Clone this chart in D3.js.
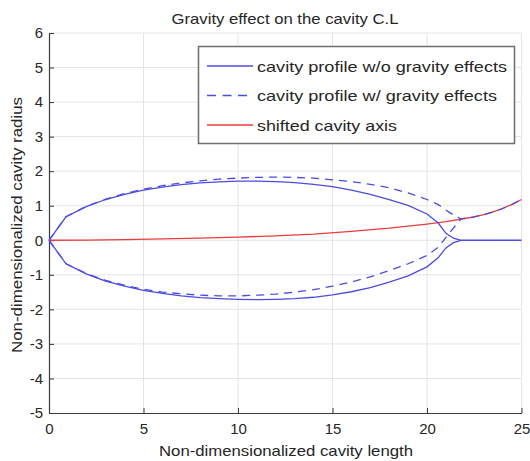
<!DOCTYPE html>
<html>
<head>
<meta charset="utf-8">
<script src="https://cdn.jsdelivr.net/npm/d3@7"></script>
<style>
  body { margin: 0; background: #fff; }
  svg text { font-family: "Liberation Sans", Arial, sans-serif; fill: #262626; }
</style>
</head>
<body>
<svg id="chart" width="530" height="461"></svg>
<script>
var x_ticks = [0, 5, 10, 15, 20, 25];
var y_ticks = [-5, -4, -3, -2, -1, 0, 1, 2, 3, 4, 5, 6];

// cavity profile without gravity (upper / lower contour, then the closed tail on y=0)
var profile_x     = [0, 0.9, 2, 3, 4, 5, 6, 7, 8, 9, 10, 11, 12, 13, 14, 15, 16, 17, 18, 19, 20, 20.6, 21, 21.4, 21.8];
var profile_upper = [0, 0.68, 0.98, 1.18, 1.33, 1.45, 1.54, 1.61, 1.66, 1.69, 1.71, 1.71, 1.70, 1.67, 1.62, 1.55, 1.45, 1.33, 1.18, 1.01, 0.76, 0.50, 0.20, 0.06, 0];
var profile_lower = [0, -0.68, -0.98, -1.18, -1.33, -1.45, -1.54, -1.61, -1.66, -1.69, -1.71, -1.72, -1.71, -1.69, -1.65, -1.58, -1.49, -1.37, -1.21, -1.03, -0.77, -0.50, -0.22, -0.07, 0];
var tail_x = [21.8, 25];
var tail_y = [0, 0];

// cavity profile with gravity
var gravity_x     = [0, 0.9, 2, 3, 4, 5, 6, 7, 8, 9, 10, 11, 12, 13, 14, 15, 16, 17, 18, 19, 20, 20.6, 21.2, 21.5, 21.8, 22.5, 23, 23.5, 24, 24.5, 25];
var gravity_upper = [0, 0.68, 0.99, 1.19, 1.35, 1.48, 1.58, 1.66, 1.72, 1.77, 1.80, 1.82, 1.83, 1.82, 1.80, 1.75, 1.70, 1.62, 1.52, 1.37, 1.18, 1.03, 0.80, 0.70, 0.62, 0.68, 0.74, 0.82, 0.92, 1.04, 1.18];
var gravity_lower_x = [0, 0.9, 2, 3, 4, 5, 6, 7, 8, 9, 10, 11, 12, 13, 14, 15, 16, 17, 18, 19, 20, 20.6, 21.2, 21.5, 21.8];
var gravity_lower = [0, -0.68, -0.97, -1.16, -1.30, -1.42, -1.50, -1.55, -1.59, -1.61, -1.61, -1.59, -1.56, -1.50, -1.43, -1.33, -1.21, -1.06, -0.88, -0.68, -0.44, -0.20, 0.22, 0.42, 0.62];

// shifted cavity axis
var axis_x = [0, 2, 4, 6, 8, 10, 12, 14, 16, 18, 20, 21, 22, 22.5, 23, 23.5, 24, 24.5, 25];
var axis_y = [0, 0.005, 0.02, 0.04, 0.06, 0.09, 0.13, 0.18, 0.26, 0.35, 0.47, 0.54, 0.63, 0.68, 0.74, 0.82, 0.92, 1.04, 1.18];

var legend_labels = ["cavity profile w/o gravity effects", "cavity profile w/ gravity effects", "shifted cavity axis"];

var blue = "#4c4ce2", red = "#ec3c3c";

var svg = d3.select("#chart");
var x = d3.scaleLinear().domain([0, 25]).range([49, 521.5]);
var y = d3.scaleLinear().domain([-5, 6]).range([413, 33]);

function zip(xs, ys) {
  return xs.map(function(d, i) { return [d, ys[i]]; });
}

// grid
svg.append("g").selectAll("line")
  .data(x_ticks.slice(1)).enter().append("line")
  .attr("x1", function(d) { return x(d); }).attr("x2", function(d) { return x(d); })
  .attr("y1", y(-5)).attr("y2", y(6))
  .attr("stroke", "#e4e4e4").attr("stroke-width", 1);
svg.append("g").selectAll("line")
  .data(y_ticks.slice(1)).enter().append("line")
  .attr("x1", x(0)).attr("x2", x(25))
  .attr("y1", function(d) { return y(d); }).attr("y2", function(d) { return y(d); })
  .attr("stroke", "#e4e4e4").attr("stroke-width", 1);

// axes (ticks pointing inward, like matlab); plain hyphen for negatives
var fmt = function(d) { return String(d); };
var x_axis = svg.append("g").attr("transform", "translate(0," + y(-5) + ")")
  .call(d3.axisBottom(x).tickValues(x_ticks).tickFormat(fmt).tickSizeInner(-5).tickSizeOuter(0).tickPadding(10));
var y_axis = svg.append("g").attr("transform", "translate(" + x(0) + ",0)")
  .call(d3.axisLeft(y).tickValues(y_ticks).tickFormat(fmt).tickSizeInner(-5).tickSizeOuter(0).tickPadding(6));

[x_axis, y_axis].forEach(function(ax) {
  ax.select(".domain").attr("stroke", "#3a3a3a").attr("stroke-width", 1.2);
  ax.selectAll(".tick line").attr("stroke", "#3a3a3a");
  ax.selectAll(".tick text").attr("font-size", 15).attr("fill", "#333")
    .attr("font-family", "Liberation Sans, Arial, sans-serif");
});

// curves
var line = d3.line()
  .x(function(d) { return x(d[0]); })
  .y(function(d) { return y(d[1]); });

var plot = svg.append("g");
plot.append("path").datum(zip(axis_x, axis_y))
  .attr("d", line).attr("fill", "none").attr("stroke", red).attr("stroke-width", 1.3);

[zip(profile_x, profile_upper), zip(profile_x, profile_lower), zip(tail_x, tail_y)].forEach(function(pts) {
  plot.append("path").datum(pts)
    .attr("d", line).attr("fill", "none").attr("stroke", blue).attr("stroke-width", 1.3);
});

[zip(gravity_x, gravity_upper), zip(gravity_lower_x, gravity_lower)].forEach(function(pts) {
  plot.append("path").datum(pts)
    .attr("d", line).attr("fill", "none").attr("stroke", blue).attr("stroke-width", 1.3)
    .attr("stroke-dasharray", "8,6");
});

// title and labels (glyphs stretched to the reference widths)
svg.append("text").attr("x", 285).attr("y", 24).attr("text-anchor", "middle")
  .attr("font-size", 14.5).attr("textLength", 227).attr("lengthAdjust", "spacingAndGlyphs")
  .text("Gravity effect on the cavity C.L");
svg.append("text").attr("x", 286).attr("y", 456).attr("text-anchor", "middle")
  .attr("font-size", 15).attr("textLength", 254).attr("lengthAdjust", "spacingAndGlyphs")
  .text("Non-dimensionalized cavity length");
svg.append("text").attr("transform", "translate(21.5,225) rotate(-90)").attr("text-anchor", "middle")
  .attr("font-size", 15).attr("textLength", 256).attr("lengthAdjust", "spacingAndGlyphs")
  .text("Non-dimensionalized cavity radius");

// legend
var legend_widths = [250, 240, 140];
var legend = svg.append("g");
legend.append("rect").attr("x", 198.5).attr("y", 46.5).attr("width", 316).attr("height", 97)
  .attr("fill", "#fff").attr("stroke", "#6e6e6e").attr("stroke-width", 1.5);
var rows = legend.selectAll("g.row").data(legend_labels).enter().append("g")
  .attr("transform", function(d, i) { return "translate(0," + (66 + i * 29.5) + ")"; });
rows.append("line").attr("x1", 207).attr("x2", 253).attr("y1", 0).attr("y2", 0)
  .attr("stroke", function(d, i) { return i == 2 ? red : blue; })
  .attr("stroke-width", 1.3)
  .attr("stroke-dasharray", function(d, i) { return i == 1 ? "9,6.5" : null; });
rows.append("text").attr("x", 257).attr("y", 5.5).attr("font-size", 15)
  .attr("textLength", function(d, i) { return legend_widths[i]; }).attr("lengthAdjust", "spacingAndGlyphs")
  .text(function(d) { return d; });
</script>
</body>
</html>
